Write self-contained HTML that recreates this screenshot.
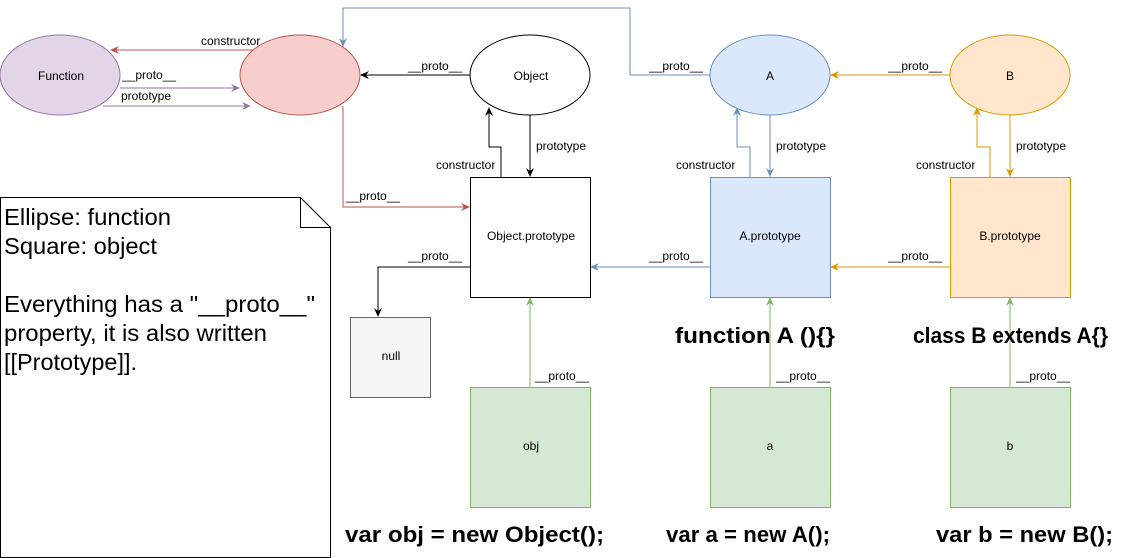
<!DOCTYPE html>
<html><head><meta charset="utf-8"><style>
html,body{margin:0;padding:0;background:#fff;width:1146px;height:558px;overflow:hidden}
svg{display:block}
text{font-family:"Liberation Sans",Arial,sans-serif}
.s{font-size:12px;fill:#000}
.b{font-size:22px;font-weight:bold;fill:#000}
.n{font-size:23px;fill:#000}
</style></head><body>
<svg width="1146" height="558" viewBox="0 0 1146 558">
<defs>
<marker id="mk" markerWidth="10" markerHeight="10" refX="8" refY="5" orient="auto" markerUnits="userSpaceOnUse"><path d="M0,1 L9,5 L0,9 L3,5z" fill="#000"/></marker>
<marker id="mr" markerWidth="10" markerHeight="10" refX="8" refY="5" orient="auto" markerUnits="userSpaceOnUse"><path d="M0,1 L9,5 L0,9 L3,5z" fill="#b85450"/></marker>
<marker id="mp" markerWidth="10" markerHeight="10" refX="8" refY="5" orient="auto" markerUnits="userSpaceOnUse"><path d="M0,1 L9,5 L0,9 L3,5z" fill="#9673a6"/></marker>
<marker id="mb" markerWidth="10" markerHeight="10" refX="8" refY="5" orient="auto" markerUnits="userSpaceOnUse"><path d="M0,1 L9,5 L0,9 L3,5z" fill="#6c8ebf"/></marker>
<marker id="mo" markerWidth="10" markerHeight="10" refX="8" refY="5" orient="auto" markerUnits="userSpaceOnUse"><path d="M0,1 L9,5 L0,9 L3,5z" fill="#d79b00"/></marker>
<marker id="mg" markerWidth="10" markerHeight="10" refX="8" refY="5" orient="auto" markerUnits="userSpaceOnUse"><path d="M0,1 L9,5 L0,9 L3,5z" fill="#82b366"/></marker>
</defs>
<g fill="none" stroke-width="1">
<line x1="256" y1="50" x2="111" y2="50" stroke="#b85450" marker-end="url(#mr)"/>
<line x1="120" y1="88" x2="239" y2="88" stroke="#9673a6" marker-end="url(#mp)"/>
<line x1="103" y1="106" x2="250" y2="106" stroke="#9673a6" marker-end="url(#mp)"/>
<line x1="470" y1="75" x2="361" y2="75" stroke="#000" marker-end="url(#mk)"/>
<polyline points="710,75 630,75 630,8 343,8 343,46" stroke="#6c8ebf" marker-end="url(#mb)"/>
<polyline points="343,106 343,207 469,207" stroke="#b85450" marker-end="url(#mr)"/>
<line x1="950" y1="75" x2="831" y2="75" stroke="#d79b00" marker-end="url(#mo)"/>
<polyline points="501,177 501,147 489,147 489,108" stroke="#000" marker-end="url(#mk)"/>
<line x1="530" y1="115" x2="530" y2="176" stroke="#000" marker-end="url(#mk)"/>
<polyline points="750,177 750,147 737,147 737,108" stroke="#6c8ebf" marker-end="url(#mb)"/>
<line x1="770" y1="115" x2="770" y2="176" stroke="#6c8ebf" marker-end="url(#mb)"/>
<polyline points="990,177 990,147 977,147 977,108" stroke="#d79b00" marker-end="url(#mo)"/>
<line x1="1010" y1="115" x2="1010" y2="176" stroke="#d79b00" marker-end="url(#mo)"/>
<polyline points="470,267 378,267 378,316" stroke="#000" marker-end="url(#mk)"/>
<line x1="710" y1="267" x2="591" y2="267" stroke="#6c8ebf" marker-end="url(#mb)"/>
<line x1="950" y1="267" x2="831" y2="267" stroke="#d79b00" marker-end="url(#mo)"/>
<line x1="530" y1="387" x2="530" y2="298" stroke="#82b366" marker-end="url(#mg)"/>
<line x1="770" y1="387" x2="770" y2="298" stroke="#82b366" marker-end="url(#mg)"/>
<line x1="1010" y1="387" x2="1010" y2="298" stroke="#82b366" marker-end="url(#mg)"/>
</g>
<ellipse cx="60" cy="75" rx="60" ry="40" fill="#e1d5e7" stroke="#9673a6"/>
<ellipse cx="300" cy="75" rx="60" ry="40" fill="#f8cecc" stroke="#b85450"/>
<ellipse cx="530" cy="75" rx="60" ry="40" fill="#fff" stroke="#000"/>
<ellipse cx="770" cy="75" rx="60" ry="40" fill="#dae8fc" stroke="#6c8ebf"/>
<ellipse cx="1010" cy="75" rx="60" ry="40" fill="#ffe6cc" stroke="#d79b00"/>
<rect x="470.5" y="177.5" width="120" height="120" fill="#fff" stroke="#000"/>
<rect x="710.5" y="177.5" width="120" height="120" fill="#dae8fc" stroke="#6c8ebf"/>
<rect x="950.5" y="177.5" width="120" height="120" fill="#ffe6cc" stroke="#d79b00"/>
<rect x="350.5" y="317.5" width="80" height="80" fill="#f5f5f5" stroke="#666"/>
<rect x="470.5" y="387.5" width="120" height="120" fill="#d5e8d4" stroke="#82b366"/>
<rect x="710.5" y="387.5" width="120" height="120" fill="#d5e8d4" stroke="#82b366"/>
<rect x="950.5" y="387.5" width="120" height="120" fill="#d5e8d4" stroke="#82b366"/>
<path d="M0.5,197.5 H300.5 L330.5,227.5 V557.5 H0.5 Z" fill="#fff" stroke="#000"/>
<path d="M300.5,197.5 V227.5 H330.5" fill="none" stroke="#000"/>
<g class="s" text-anchor="middle">
<text x="61" y="80">Function</text>
<text x="531" y="80">Object</text>
<text x="770" y="80">A</text>
<text x="1010" y="80">B</text>
<text x="531" y="240">Object.prototype</text>
<text x="770" y="240">A.prototype</text>
<text x="1010" y="240">B.prototype</text>
<text x="391" y="360">null</text>
<text x="531" y="450">obj</text>
<text x="770" y="450">a</text>
<text x="1010" y="450">b</text>
</g>
<g class="s">
<text x="201" y="45">constructor</text>
<text x="122" y="79">__proto__</text>
<text x="121" y="100">prototype</text>
<text x="408" y="70">__proto__</text>
<text x="649" y="70">__proto__</text>
<text x="888" y="70">__proto__</text>
<text x="436" y="169">constructor</text>
<text x="536" y="150">prototype</text>
<text x="676" y="169">constructor</text>
<text x="776" y="150">prototype</text>
<text x="916" y="169">constructor</text>
<text x="1016" y="150">prototype</text>
<text x="346" y="200">__proto__</text>
<text x="408" y="260">__proto__</text>
<text x="649" y="260">__proto__</text>
<text x="888" y="260">__proto__</text>
<text x="535" y="380">__proto__</text>
<text x="776" y="380">__proto__</text>
<text x="1016" y="380">__proto__</text>
</g>
<g class="n">
<text x="4" y="225" textLength="167" lengthAdjust="spacingAndGlyphs">Ellipse: function</text>
<text x="4" y="254" textLength="153" lengthAdjust="spacingAndGlyphs">Square: object</text>
<text x="4" y="312" textLength="311" lengthAdjust="spacingAndGlyphs">Everything has a "__proto__"</text>
<text x="4" y="341" textLength="263" lengthAdjust="spacingAndGlyphs">property, it is also written</text>
<text x="4" y="370" textLength="133" lengthAdjust="spacingAndGlyphs">[[Prototype]].</text>
</g>
<g class="b">
<text x="675" y="343" textLength="160" lengthAdjust="spacingAndGlyphs">function A (){}</text>
<text x="913" y="343" textLength="195" lengthAdjust="spacingAndGlyphs">class B extends A{}</text>
<text x="345" y="542" textLength="259" lengthAdjust="spacingAndGlyphs">var obj = new Object();</text>
<text x="666" y="542" textLength="164" lengthAdjust="spacingAndGlyphs">var a = new A();</text>
<text x="936" y="542" textLength="177" lengthAdjust="spacingAndGlyphs">var b = new B();</text>
</g>
</svg>
</body></html>
